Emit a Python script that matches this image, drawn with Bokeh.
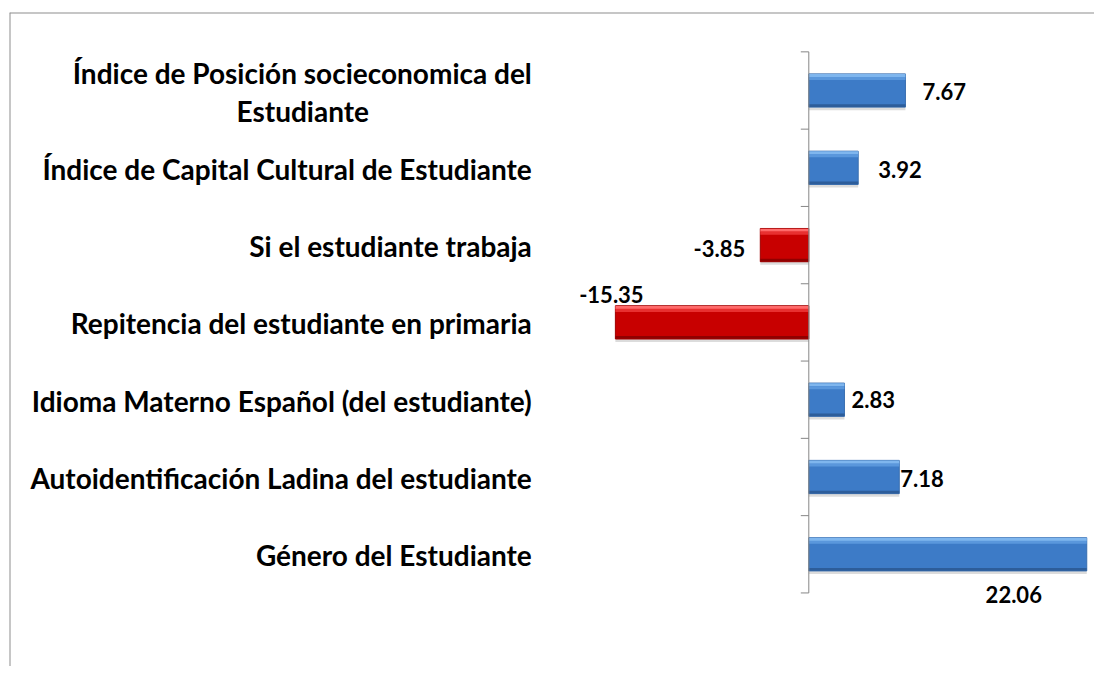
import numpy as np
from bokeh.plotting import figure
from bokeh.models import Range1d, Span, ColumnDataSource
from bokeh.core.properties import value
from bokeh.embed import file_html
from bokeh.resources import INLINE

# ---------------- data ----------------
categories = [
    "Índice de Posición socieconomica del\nEstudiante",
    "Índice de Capital Cultural de Estudiante",
    "Si el estudiante trabaja",
    "Repitencia del estudiante en primaria",
    "Idioma Materno Español (del estudiante)",
    "Autoidentificación Ladina del estudiante",
    "Género del Estudiante",
]
values = [7.67, 3.92, -3.85, -15.35, 2.83, 7.18, 22.06]
value_labels = [f"{v:.2f}" for v in values]

# ---------------- layout constants (pixels) ----------------
W, H = 1094, 666
ZERO_PX = 808.3          # canvas x of value 0
PX_PER_UNIT = 12.6
FRAME_LEFT, FRAME_TOP = 9, 12
FIRST_CENTER_PX = 90.0   # canvas y of first category centre
BAND_PX = 77.3

x_start = (FRAME_LEFT - ZERO_PX) / PX_PER_UNIT
x_end = (W - ZERO_PX) / PX_PER_UNIT
y_top = (FRAME_TOP - FIRST_CENTER_PX) / BAND_PX
y_bottom = (H - FIRST_CENTER_PX) / BAND_PX

n = len(categories)
ypos = list(range(n))
BAR_H = 0.43

p = figure(width=W, height=H, output_backend="svg", toolbar_location=None,
           x_range=Range1d(x_start, x_end), y_range=Range1d(y_bottom, y_top),
           x_axis_location=None, y_axis_location=None,
           min_border_left=FRAME_LEFT, min_border_top=FRAME_TOP,
           min_border_right=0, min_border_bottom=0)
p.grid.visible = False
p.outline_line_color = None
p.background_fill_color = "white"
p.border_fill_color = "white"

# chart border (left and top visible)
p.add_layout(Span(location=x_start, dimension="height", line_color="#8e8e8e", line_width=2))
p.add_layout(Span(location=y_top, dimension="width", line_color="#8e8e8e", line_width=2))

pos = [v >= 0 for v in values]
main_col = ["#3d7bc7" if s else "#c80000" for s in pos]
hi_col = ["#7fb6ee" if s else "#ff6a6a" for s in pos]
mid_col = ["#5a97dc" if s else "#e83030" for s in pos]
lo_col = ["#2d5d9a" if s else "#900000" for s in pos]
edge_col = ["#3a6fb0" if s else "#a00000" for s in pos]

src = ColumnDataSource(dict(
    y=ypos, right=values, main=main_col, hi=hi_col, mid=mid_col, lo=lo_col, edge=edge_col,
    y_sh=[y + 0.04 for y in ypos],
    y_hi=[y - BAR_H / 2 + 0.022 for y in ypos],
    y_mid=[y - BAR_H / 2 + 0.06 for y in ypos],
    y_lo=[y + BAR_H / 2 - 0.02 for y in ypos],
))

# shadow
p.hbar(y="y_sh", left=0, right="right", height=BAR_H, source=src,
       fill_color="#8a8a8a", fill_alpha=0.3, line_color=None)
# main body
p.hbar(y="y", left=0, right="right", height=BAR_H, source=src,
       fill_color="main", line_color="edge", line_width=1)
# bevel strips
p.hbar(y="y_hi", left=0, right="right", height=0.04, source=src,
       fill_color="hi", line_color=None)
p.hbar(y="y_mid", left=0, right="right", height=0.04, source=src,
       fill_color="mid", line_color=None)
p.hbar(y="y_lo", left=0, right="right", height=0.035, source=src,
       fill_color="lo", line_color=None)

# axis line at zero with tick marks at band boundaries
bounds = [i - 0.5 for i in range(n + 1)]
p.segment(x0=[0], y0=[bounds[0]], x1=[0], y1=[bounds[-1]], line_color="#868686", line_width=1)
p.ray(x=[0] * len(bounds), y=bounds, length=8, length_units="screen", angle=np.pi,
      line_color="#868686", line_width=1)

# category labels
LABEL_DX = -277
FONT = value("Lato")
CAT_SIZE = "28px"
single_y, single_t, two_y, two_l1, two_l2 = [], [], [], [], []
for y, c in zip(ypos, categories):
    if "\n" in c:
        a, b = c.split("\n")
        two_y.append(y); two_l1.append(a); two_l2.append(b)
    else:
        single_y.append(y); single_t.append(c)

p.text(x=[0] * len(single_y), y=single_y, text=single_t, x_offset=LABEL_DX, y_offset=1,
       text_align="right", text_baseline="middle", text_font=FONT, text_font_style="bold",
       text_font_size=CAT_SIZE, text_color="#000000")
p.text(x=[0] * len(two_y), y=two_y, text=two_l1, x_offset=LABEL_DX, y_offset=-18,
       text_align="right", text_baseline="middle", text_font=FONT, text_font_style="bold",
       text_font_size=CAT_SIZE, text_color="#000000")
p.text(x=[0] * len(two_y), y=two_y, text=two_l2, x_offset=-506, y_offset=20,
       text_align="center", text_baseline="middle", text_font=FONT, text_font_style="bold",
       text_font_size=CAT_SIZE, text_color="#000000")

# value labels (manual placement as in the original)
lab_dx = [17, 20, -15, -4, 7, 1, -73]
lab_dy = [1, 2, 3, -28, 0, 1, 40]
lab_align = ["left", "left", "right", "center", "left", "left", "center"]
lsrc = ColumnDataSource(dict(x=values, y=ypos, t=value_labels, dx=lab_dx, dy=lab_dy, al=lab_align))
p.text(x="x", y="y", text="t", x_offset="dx", y_offset="dy", text_align="al",
       text_baseline="middle", source=lsrc, text_font=FONT, text_font_style="bold",
       text_font_size="22px", text_color="#000000")

open("out.html", "w").write(file_html(p, INLINE))
